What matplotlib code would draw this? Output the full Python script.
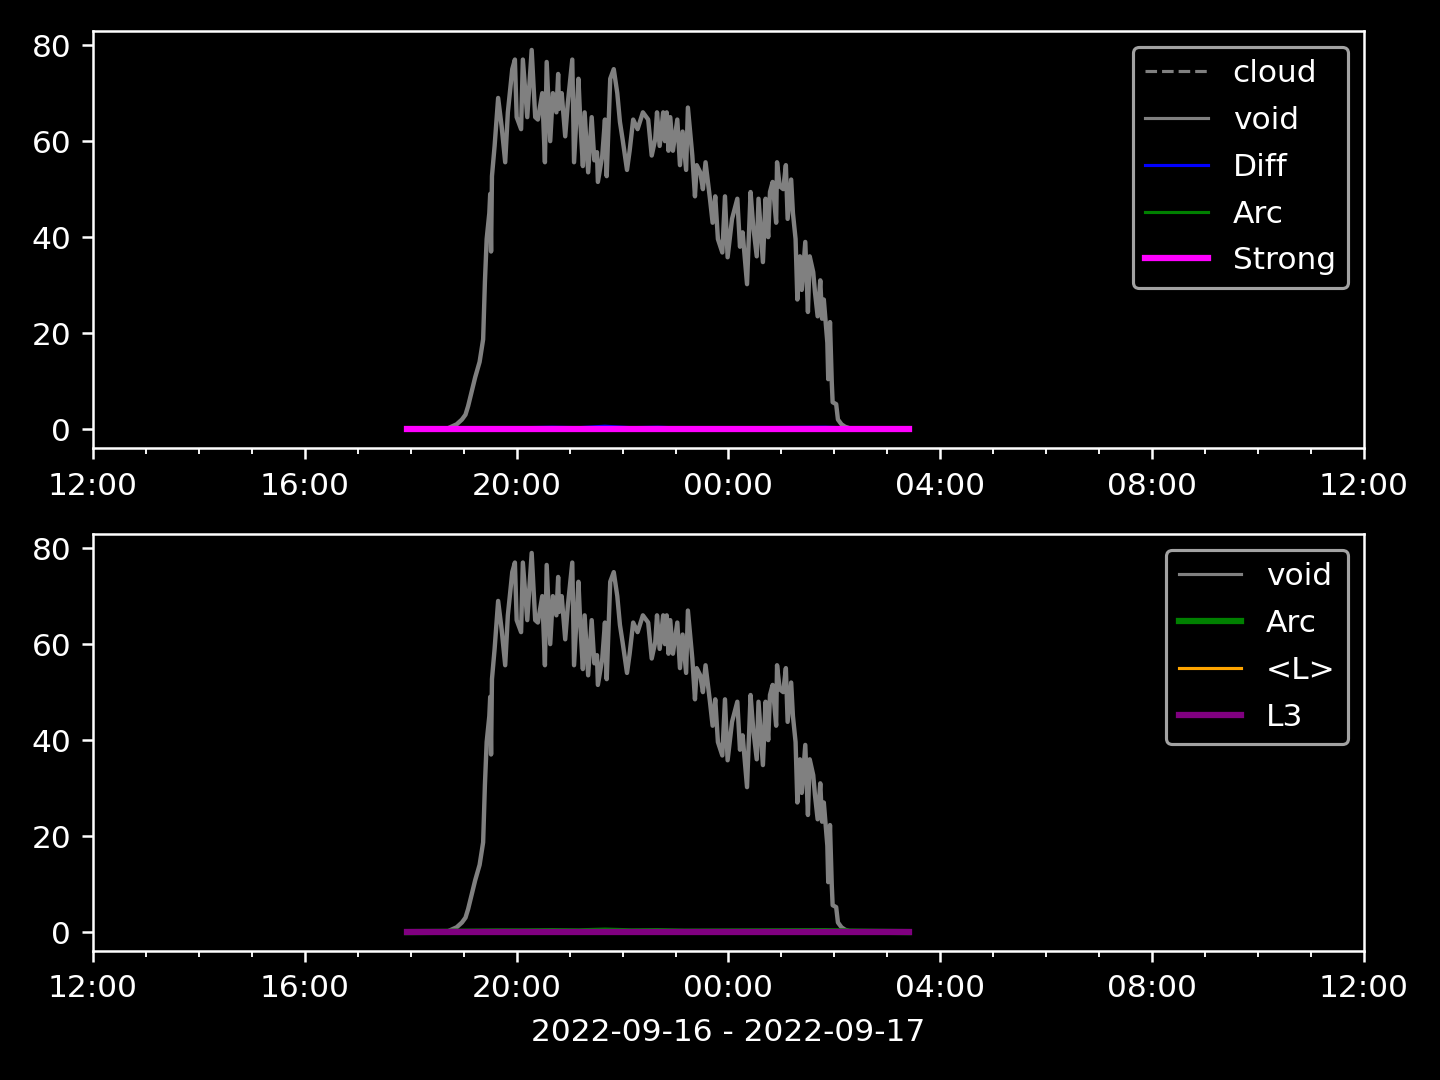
import numpy as np
import pandas as pd
import matplotlib
matplotlib.use("Agg")
import matplotlib.pyplot as plt
import matplotlib.dates as mdates

# void signal (local time, 2022-09-16 evening -> 2022-09-17 morning)
void_times = ["17:56", "18:40", "18:52", "18:58", "19:02", "19:05", "19:13", "19:18", "19:22",
              "19:24", "19:26", "19:29", "19:30", "19:31", "19:32", "19:35", "19:39", "19:43",
              "19:47", "19:50", "19:55", "19:58", "20:00", "20:05", "20:07", "20:12", "20:17",
              "20:21", "20:24", "20:29", "20:32", "20:34", "20:38", "20:41", "20:45", "20:47",
              "20:48", "20:51", "20:55", "20:58", "21:03", "21:05", "21:10", "21:12", "21:15",
              "21:17", "21:21", "21:25", "21:28", "21:31", "21:32", "21:37", "21:40", "21:42",
              "21:46", "21:50", "21:54", "21:57", "22:00", "22:05", "22:08", "22:12", "22:17",
              "22:23", "22:29", "22:33", "22:37", "22:39", "22:42", "22:46", "22:48", "22:50",
              "22:52", "22:54", "22:57", "23:02", "23:05", "23:08", "23:12", "23:14", "23:19",
              "23:22", "23:24", "23:28", "23:31", "23:34", "23:39", "23:42", "23:45", "23:48",
              "23:53", "23:56", "23:59", "00:04", "00:10", "00:13", "00:16", "00:21", "00:25",
              "00:28", "00:32", "00:34", "00:39", "00:42", "00:45", "00:47", "00:50", "00:54",
              "00:55", "00:58", "01:02", "01:05", "01:07", "01:11", "01:13", "01:16", "01:18",
              "01:21", "01:23", "01:27", "01:30", "01:32", "01:36", "01:38", "01:41", "01:44",
              "01:46", "01:48", "01:52", "01:53", "01:55", "01:57", "01:58", "02:02", "02:04",
              "02:08", "02:12", "02:20", "03:24"]
void_vals = [0, 0, 1, 2, 3, 4.8, 10.8, 14, 18.7,
             30.6, 39.6, 45, 49, 37, 52.7, 59, 69, 63,
             55.6, 66, 75, 77, 65, 62.5, 77, 65, 79,
             65, 64.5, 70, 55.6, 76.5, 60, 70, 66, 74,
             66.7, 70, 61, 68, 77, 55.6, 73, 64.5, 54.8,
             66, 53.5, 65, 56, 57.7, 51.5, 57, 64.5, 52.7,
             73, 75, 70, 64, 60.4, 54, 58, 64.5, 62.5,
             66, 64.5, 57, 60.4, 66, 59, 66, 60, 66,
             58, 65, 58, 64.5, 55, 62, 54, 67, 57,
             48.5, 55, 53.5, 50, 55.6, 48, 43, 48.5, 39.6,
             36.8, 48.5, 35.8, 43.8, 48, 38, 41, 30.2, 49.4,
             42.3, 36, 48, 34.8, 48, 40, 49.4, 51.5, 43,
             55.6, 50.6, 50, 55, 43.8, 52, 45, 39.6, 27,
             36, 29, 39, 24.4, 36, 32.7, 28.5, 23.5, 31,
             23, 27, 18, 10.4, 22.3, 9.8, 5.6, 5.2, 2,
             1, 0.5, 0, 0]

# small blue Diff wiggles near zero
diff_times = ["17:56", "19:10", "19:40", "20:10", "20:40", "21:10", "21:40", "21:50",
              "22:10", "22:40", "23:10", "01:50", "02:05", "03:24"]
diff_vals = [0, 0.2, 0.3, 0.3, 0.4, 0.3, 0.6, 0.5, 0.3, 0.4, 0.2, 0.4, 0.3, 0]

flat_times = ["17:56", "03:24"]
flat_vals = [0, 0]


def to_dt(times):
    out = []
    for t in times:
        day = "2022-09-16" if int(t[:2]) >= 12 else "2022-09-17"
        out.append(pd.Timestamp(day + " " + t))
    return out


tv = to_dt(void_times)
td = to_dt(diff_times)
tf = to_dt(flat_times)

plt.style.use("dark_background")
fig, (ax1, ax2) = plt.subplots(2, 1, figsize=(6.4, 4.8), dpi=225)
fig.subplots_adjust(left=0.0646, right=0.9472, top=0.9713, bottom=0.1194, hspace=0.206)

ax1.plot(tf, flat_vals, color="gray", ls="--", lw=1, label="cloud")
ax1.plot(tv, void_vals, color="gray", lw=1.4, label="void")
ax1.plot(td, diff_vals, color="blue", lw=1, label="Diff")
ax1.plot(tf, flat_vals, color="green", lw=1, label="Arc")
ax1.plot(tf, flat_vals, color="magenta", lw=2, label="Strong")
ax1.legend(loc="upper right", labelspacing=0.57)

ax2.plot(tv, void_vals, color="gray", lw=1.4, label="void")
ax2.plot(td, [v * 0.5 for v in diff_vals], color="green", lw=2, label="Arc")
ax2.plot(tf, flat_vals, color="orange", lw=1, label="<L>")
ax2.plot(tf, flat_vals, color="purple", lw=2, label="L3")
ax2.legend(loc="upper right", labelspacing=0.57)

# void legend handle drawn at normal width
for ax in (ax1, ax2):
    for h in ax.get_legend().get_lines():
        if h.get_label() == "void":
            h.set_linewidth(1)

xmin = pd.Timestamp("2022-09-16 12:00")
xmax = pd.Timestamp("2022-09-17 12:00")
for ax in (ax1, ax2):
    ax.set_xlim(xmin, xmax)
    ax.set_yticks([0, 20, 40, 60, 80])
    ax.xaxis.set_major_locator(mdates.HourLocator(byhour=range(0, 24, 4)))
    ax.xaxis.set_minor_locator(mdates.HourLocator())
    ax.xaxis.set_major_formatter(mdates.DateFormatter("%H:%M"))
    ax.tick_params(axis="x", which="major", pad=4)

ax2.set_xlabel("2022-09-16 - 2022-09-17", labelpad=4.5)

fig.savefig("out.png", dpi=225)
